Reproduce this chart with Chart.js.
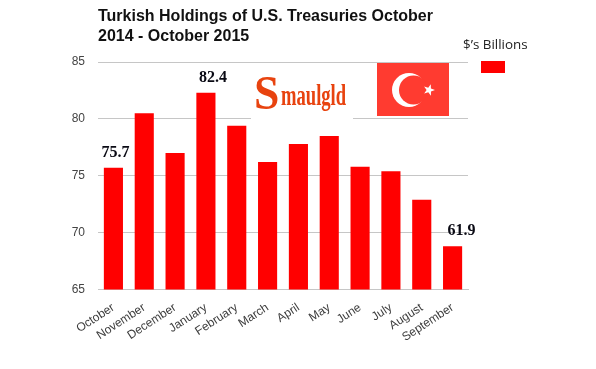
<!DOCTYPE html>
<html>
<head>
<meta charset="utf-8">
<style>
  html, body { margin: 0; padding: 0; background: #fff; }
  canvas { display: block; }
</style>
<script src="https://cdn.jsdelivr.net/npm/chart.js@4/dist/chart.umd.min.js"></script>
</head>
<body>
<canvas id="chart" width="596" height="369"></canvas>
<script>
const months = ["October", "November", "December", "January", "February", "March", "April", "May", "June", "July", "August", "September"];
const holdings = [75.7, 80.5, 77.0, 82.3, 79.4, 76.2, 77.8, 78.5, 75.8, 75.4, 72.9, 68.8];
const callouts = ["75.7", null, null, "82.4", null, null, null, null, null, null, null, "61.9"];
const titleLines = ["Turkish Holdings of U.S. Treasuries October", "2014 - October 2015"];
const legendLabel = "$\u2019s Billions";

// Labels above the bars, nudged right of centre like the original
const calloutPlugin = {
  id: "callouts",
  afterDatasetsDraw(chart) {
    const { ctx } = chart;
    const nudge = [2, 0, 0, 7, 0, 0, 0, 0, 0, 0, 0, 9];
    ctx.save();
    ctx.font = "bold 16px 'Liberation Serif'";
    ctx.fillStyle = "#0a0a14";
    ctx.textAlign = "center";
    ctx.textBaseline = "alphabetic";
    chart.getDatasetMeta(0).data.forEach((bar, i) => {
      if (callouts[i]) ctx.fillText(callouts[i], bar.x + nudge[i], bar.y - 11);
    });
    ctx.restore();
  },
};

// Logo, flag and the hand placed legend
const artworkPlugin = {
  id: "artwork",
  beforeDatasetsDraw(chart) {
    const { ctx } = chart;
    ctx.save();
    ctx.fillStyle = "#fff";
    ctx.fillRect(251, 73, 102, 49);
    ctx.restore();
  },
  afterDatasetsDraw(chart) {
    const { ctx } = chart;
    ctx.save();

    // logo
    ctx.fillStyle = "#e8430f";
    ctx.textBaseline = "alphabetic";
    ctx.save();
    ctx.translate(254, 109);
    ctx.scale(0.95, 1);
    ctx.font = "bold 48px 'Liberation Serif'";
    ctx.fillText("S", 0, 0);
    ctx.restore();
    ctx.save();
    ctx.translate(281, 105);
    ctx.scale(0.62, 1);
    ctx.font = "bold 30px 'Liberation Serif'";
    ctx.fillText("maulgld", 0, 0);
    ctx.restore();

    // flag
    ctx.fillStyle = "#ff3b30";
    ctx.fillRect(377, 63, 72, 53);
    ctx.fillStyle = "#fff";
    ctx.beginPath();
    ctx.arc(409, 90, 17, 0, Math.PI * 2);
    ctx.fill();
    ctx.fillStyle = "#ff3b30";
    ctx.beginPath();
    ctx.arc(413.5, 90, 14.5, 0, Math.PI * 2);
    ctx.fill();
    ctx.fillStyle = "#fff";
    ctx.beginPath();
    for (let i = 0; i < 10; i++) {
      const r = i % 2 ? 2.4 : 6;
      const a = -Math.PI / 2 + i * Math.PI / 5 + 0.3;
      ctx.lineTo(429 + r * Math.cos(a), 90 + r * Math.sin(a));
    }
    ctx.closePath();
    ctx.fill();

    // legend
    ctx.fillStyle = "#222";
    ctx.font = "13.4px 'Open Sans'";
    ctx.textAlign = "left";
    ctx.fillText(legendLabel, 463, 49);
    ctx.fillStyle = "#ff0000";
    ctx.fillRect(481, 61, 24, 12);
    ctx.restore();
  },
};

new Chart(document.getElementById("chart"), {
  type: "bar",
  data: {
    labels: months,
    datasets: [
      {
        label: legendLabel,
        data: holdings,
        backgroundColor: "#ff0000",
        barPercentage: 0.62,
        categoryPercentage: 1,
      },
    ],
  },
  options: {
    responsive: false,
    animation: false,
    layout: { padding: { top: 7, right: 128, left: 0, bottom: 0 } },
    plugins: {
      legend: { display: false },
      tooltip: { enabled: false },
      title: {
        display: true,
        text: titleLines,
        align: "start",
        fullSize: false,
        color: "#111",
        font: { family: "'Liberation Sans'", size: 16, weight: "bold", lineHeight: 1.25 },
        padding: { top: 0, bottom: 15 },
      },
    },
    scales: {
      x: {
        afterFit(scale) { scale.height = 79.5; },
        grid: { display: false },
        border: { color: "#c6c6c6" },
        ticks: {
          color: "#3c3c3c",
          font: { family: "'Liberation Sans'", size: 12 },
          minRotation: 33,
          maxRotation: 33,
          autoSkip: false,
          padding: 3,
        },
      },
      y: {
        min: 65,
        max: 85,
        afterFit(scale) { scale.width = 98; },
        border: { display: false },
        grid: { color: "#c6c6c6", drawTicks: false },
        ticks: {
          stepSize: 5,
          color: "#444",
          font: { family: "'Liberation Sans'", size: 12 },
          padding: 13,
        },
      },
    },
  },
  plugins: [calloutPlugin, artworkPlugin],
});
</script>
</body>
</html>
